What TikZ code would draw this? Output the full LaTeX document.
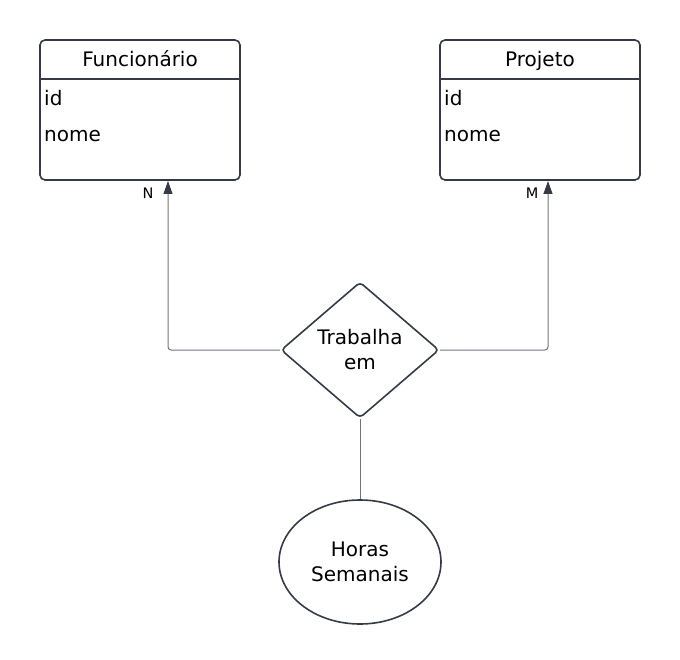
\documentclass[tikz,border=0pt]{standalone}
\usepackage{fontspec}
\setmainfont{DejaVu Sans}
\usetikzlibrary{shapes.geometric,arrows.meta,calc}
\definecolor{strokedark}{HTML}{353A45}
\definecolor{conngray}{HTML}{70747C}
\tikzset{
  entity/.style={draw=strokedark, line width=1.6pt, rounded corners=5pt, minimum width=200pt, minimum height=140pt, inner sep=0pt},
  rel/.style={draw=strokedark, line width=1.6pt, diamond, rounded corners=4pt, minimum width=158pt, minimum height=136pt, inner sep=0pt, align=center},
  attr/.style={draw=strokedark, line width=1.6pt, ellipse, minimum width=162pt, minimum height=124pt, inner sep=0pt, align=center},
  conn/.style={draw=conngray, line width=1pt, rounded corners=3pt},
  arr/.style={-{Triangle[width=9pt,length=13pt,color=strokedark,fill=strokedark]}},
  txt/.style={font=\fontsize{20}{25}\selectfont, inner sep=0pt},
  card/.style={font=\fontsize{14.5}{16}\selectfont, inner sep=0pt}
}
\begin{document}
\begin{tikzpicture}[x=1pt,y=-1pt]
\useasboundingbox (0,0) rectangle (680,660);
% entities
\node[entity] (f) at (140,110) {};
\node[entity] (p) at (540,110) {};
\draw[strokedark, line width=1.6pt] (40,79) -- (240,79);
\draw[strokedark, line width=1.6pt] (440,79) -- (640,79);
\node[txt, anchor=base] (ft) at (140,67) {Funcionário};
\node[txt, anchor=base west] (fid) at (44,106) {id};
\node[txt, anchor=base west] (fnome) at (44,142) {nome};
\node[txt, anchor=base] (pt) at (540,67) {Projeto};
\node[txt, anchor=base west] (pid) at (444,106) {id};
\node[txt, anchor=base west] (pnome) at (444,142) {nome};
% relationship
\node[rel, txt, draw=strokedark, line width=1.6pt, diamond, rounded corners=4pt, minimum width=158pt, minimum height=136pt] (r) at (360,350) {Trabalha\\em};
% attribute
\node[attr, txt, draw=strokedark, line width=1.6pt, ellipse, minimum width=162pt, minimum height=124pt] (a) at (360,562) {Horas\\Semanais};
% connection points
\coordinate (fN) at (168,181);
\coordinate (pM) at (548,181);
\draw[conn, arr] (r.west) -| (fN);
\draw[conn, arr] (r.east) -| (pM);
\draw[conn] (r.south) -- (a.north);
\node[card] (n) at (148,193) {N};
\node[card] (m) at (532,193) {M};
\end{tikzpicture}
\end{document}
